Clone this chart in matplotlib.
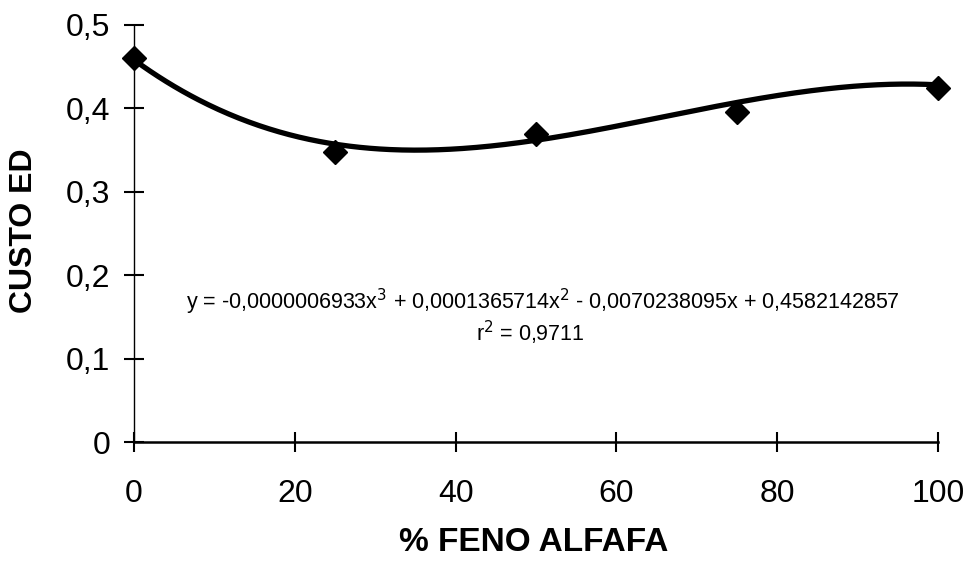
import numpy as np
import matplotlib
matplotlib.use("Agg")
import matplotlib.pyplot as plt

# Observed cost vs. share of alfalfa hay
feno_pct = [0, 25, 50, 75, 100]
custo_ed = [0.460, 0.348, 0.369, 0.396, 0.424]

# Cubic regression coefficients (highest degree first)
coef = [-0.0000006933, 0.0001365714, -0.0070238095, 0.4582142857]

x_ticks = [0, 20, 40, 60, 80, 100]
y_ticks = [0, 0.1, 0.2, 0.3, 0.4, 0.5]
y_tick_labels = ["0", "0,1", "0,2", "0,3", "0,4", "0,5"]

plt.rcParams["font.family"] = ["Liberation Sans", "DejaVu Sans"]

fig = plt.figure(figsize=(9.65, 5.63), dpi=100)
ax = fig.add_axes([134 / 965, 1 - 442 / 563, (938 - 134) / 965, (442 - 25) / 563])

xs = np.linspace(0, 100, 400)
ax.plot(xs, np.polyval(coef, xs), color="black", lw=3.8, solid_capstyle="round", zorder=3)
ax.plot(feno_pct, custo_ed, linestyle="none", marker="D", ms=12, color="black",
        zorder=4, clip_on=False)

ax.set_xlim(0, 100)
ax.set_ylim(0, 0.5)
ax.set_xticks(x_ticks)
ax.set_xticklabels([str(t) for t in x_ticks])
ax.set_yticks(y_ticks)
ax.set_yticklabels(y_tick_labels)

for side in ("top", "right"):
    ax.spines[side].set_visible(False)
ax.spines["left"].set_linewidth(1.0)
ax.spines["bottom"].set_linewidth(1.8)

ax.tick_params(axis="both", direction="inout", length=14, width=1.5, labelsize=23)
ax.tick_params(axis="x", pad=20)
ax.tick_params(axis="y", pad=10)

ax.set_xlabel("% FENO ALFAFA", fontsize=24, fontweight="bold", va="center", ha="center")
ax.xaxis.set_label_coords(0.497, -0.240)
ax.set_ylabel("CUSTO ED", fontsize=23, fontweight="bold", va="center", ha="center")
ax.yaxis.set_label_coords(-0.137, 0.506)

ax.text(50.9, 0.168,
        r"y = -0,0000006933x$^3$ + 0,0001365714x$^2$ - 0,0070238095x + 0,4582142857",
        ha="center", va="center", fontsize=15.5)
ax.text(49.3, 0.131, r"r$^2$ = 0,9711", ha="center", va="center", fontsize=15.5)

fig.savefig("out.png", dpi=100)
